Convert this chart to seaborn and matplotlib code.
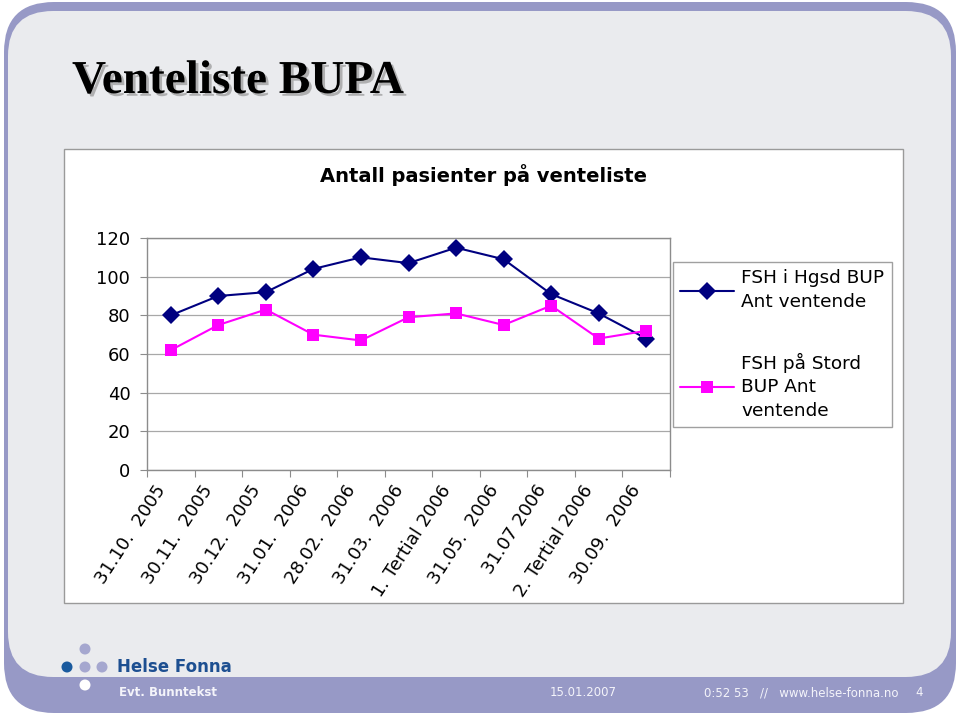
import numpy as np
import pandas as pd
import matplotlib
matplotlib.use("Agg")
import matplotlib.pyplot as plt
import matplotlib.transforms as mtransforms
import matplotlib.patheffects as pe
from matplotlib.patches import FancyBboxPatch, Rectangle, Circle
import seaborn as sns

# data
periods = ["31.10.  2005", "30.11.  2005", "30.12.  2005", "31.01.  2006",
           "28.02.  2006", "31.03.  2006", "1. Tertial 2006", "31.05.  2006",
           "31.07 2006", "2. Tertial 2006", "30.09.  2006"]
hgsd = [80, 90, 92, 104, 110, 107, 115, 109, 91, 81, 68]
stord = [62, 75, 83, 70, 67, 79, 81, 75, 85, 68, 72]
series_names = ["FSH i Hgsd BUP\nAnt ventende", "FSH på Stord\nBUP Ant\nventende"]
series_colors = ["#000080", "#ff00ff"]
series_markers = ["D", "s"]
yticks = [0, 20, 40, 60, 80, 100, 120]

data = pd.DataFrame({
    "pos": np.tile(np.arange(len(periods)), 2),
    "antall": hgsd + stord,
    "serie": [series_names[0]] * len(hgsd) + [series_names[1]] * len(stord),
})

sns.set_theme(style="white", rc={"text.color": "black"})
plt.rcParams["font.family"] = ["DejaVu Sans"]

fig = plt.figure(figsize=(9.6, 7.16), dpi=100)
fig.patch.set_facecolor("white")

# slide background, drawn in pixel coordinates
bg = fig.add_axes([0, 0, 1, 1])
bg.set_xlim(0, 960)
bg.set_ylim(716, 0)
bg.axis("off")
bg.add_patch(FancyBboxPatch((4, 2), 952, 711, boxstyle="round,pad=0,rounding_size=50",
                            facecolor="#9799c6", edgecolor="none"))
bg.add_patch(FancyBboxPatch((8, 11), 943, 666, boxstyle="round,pad=0,rounding_size=45",
                            facecolor="#eaebee", edgecolor="none"))
bg.add_patch(Rectangle((64, 149), 839, 454, facecolor="white", edgecolor="#9a9a9a", lw=1))

bg.text(72, 93, "Venteliste BUPA", fontfamily="Liberation Serif", fontsize=34,
        fontweight="bold", color="black", va="baseline",
        path_effects=[pe.withSimplePatchShadow(offset=(2, -2), shadow_rgbFace="#888888", alpha=0.6)])

# logo + footer
for (cx, cy), c in zip([(85, 649), (67, 667), (85, 667), (102, 667), (85, 685)],
                       ["#a5a7cf", "#1a5a9e", "#a5a7cf", "#a5a7cf", "white"]):
    bg.add_patch(Circle((cx, cy), 5.5, facecolor=c, edgecolor="none"))
bg.text(117, 667, "Helse Fonna", fontsize=12, fontweight="bold", color="#1d4f91", va="center")
foot = dict(fontsize=8.5, color="#f4f4fa", va="center")
bg.text(119, 693, "Evt. Bunntekst", fontweight="bold", **foot)
bg.text(550, 693, "15.01.2007", **foot)
bg.text(898, 693, "0:52 53   //   www.helse-fonna.no", ha="right", **foot)
bg.text(915, 693, "4", **foot)

fig.text(484 / 960, 1 - 175 / 716, "Antall pasienter på venteliste",
         ha="center", va="center", fontsize=14, fontweight="bold")

# chart
ax = fig.add_axes([147 / 960, 1 - 470 / 716, 523 / 960, 232 / 716])
sns.lineplot(data=data, x="pos", y="antall", hue="serie", style="serie",
             palette=series_colors, markers=series_markers, dashes=False,
             sort=False, linewidth=1.5, markersize=9, markeredgewidth=0, ax=ax)
ax.get_legend().remove()

ax.set_xlim(-0.5, len(periods) - 0.5)
ax.set_ylim(0, 120)
ax.set_yticks(yticks)
ax.set_xlabel("")
ax.set_ylabel("")
ax.yaxis.grid(True, color="#a8a8a8", lw=0.9)
ax.xaxis.grid(False)
for s in ax.spines.values():
    s.set_color("#8c8c8c")
    s.set_linewidth(1)

ax.set_xticks(np.arange(len(periods)))
ax.set_xticks(np.arange(len(periods) + 1) - 0.5, minor=True)
ax.set_xticklabels(periods, rotation=57, ha="right", va="center", rotation_mode="anchor")
ax.tick_params(axis="x", which="major", length=0, pad=12, labelsize=13, labelcolor="black")
ax.tick_params(axis="x", which="minor", bottom=True, length=5, width=0.8,
               direction="out", color="#8c8c8c")
ax.tick_params(axis="y", left=True, length=5, width=0.8, direction="out",
               color="#8c8c8c", pad=7, labelsize=13, labelcolor="black")
shift = mtransforms.ScaledTranslation(-9 / 100, 0, fig.dpi_scale_trans)
for lbl in ax.get_xticklabels():
    lbl.set_transform(lbl.get_transform() + shift)

leg = ax.legend(handles=ax.lines[:2], labels=series_names, loc="upper left",
                bbox_to_anchor=(673 / 960, 1 - 262 / 716), bbox_transform=fig.transFigure,
                borderaxespad=0, fontsize=13.3, frameon=True, fancybox=False, framealpha=1,
                edgecolor="#a0a0a0", handlelength=2.9, handletextpad=0.4,
                borderpad=0.4, labelspacing=2.25, numpoints=1)
for t in leg.get_texts():
    t.set_linespacing(1.4)

fig.savefig("out.png", dpi=100)
